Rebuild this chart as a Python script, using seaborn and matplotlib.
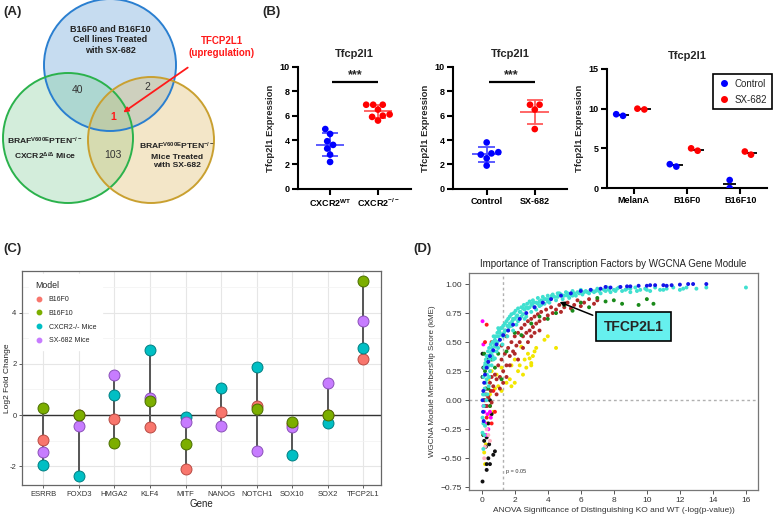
import numpy as np
import pandas as pd
import matplotlib
matplotlib.use("Agg")
import matplotlib.pyplot as plt
import seaborn as sns
from matplotlib.patches import Circle
from matplotlib.lines import Line2D

sns.set_theme(style="white")
plt.rcParams['font.family'] = ['Liberation Sans', 'DejaVu Sans']
plt.rcParams['mathtext.fontset'] = 'custom'
plt.rcParams['mathtext.rm'] = 'Liberation Sans'
plt.rcParams['mathtext.bf'] = 'Liberation Sans:bold'
plt.rcParams['mathtext.default'] = 'bf'

# ---- (A) Venn counts ----
venn_counts = ["40", "2", "1", "103"]   # B∩G, B∩Y, all three, G∩Y

# ---- (B) Tfcp2l1 expression ----
cxcr2_wt = [4.9, 4.5, 3.9, 3.6, 3.3, 2.8, 2.2]
cxcr2_ko = [6.9, 6.9, 6.9, 6.5, 6.1, 6.0, 5.9, 5.6]
ctrl_mice = [3.8, 3.0, 2.9, 2.8, 2.5, 1.9]
sx_mice = [6.9, 6.9, 6.5, 4.9]
cell_lines = ["MelanA", "B16F0", "B16F10"]
cell_ctrl = [[9.1, 9.3], [2.7, 3.0], [1.0, 0.0]]
cell_sx = [[9.9, 10.0], [4.7, 5.0], [4.2, 4.6]]

# ---- (C) log2 fold change ----
genes = ["ESRRB", "FOXD3", "HMGA2", "KLF4", "MITF", "NANOG", "NOTCH1", "SOX10", "SOX2", "TFCP2L1"]
lfc_b16f0 = [-0.99, 0.0, -0.17, -0.46, -2.1, 0.12, 0.35, -0.35, 0.0, 2.17]
lfc_b16f10 = [0.28, 0.0, -1.11, 0.55, -1.14, np.nan, 0.22, -0.28, 0.0, 5.23]
lfc_cxcr2 = [-1.96, -2.36, 0.77, 2.55, -0.06, 1.07, 1.87, -1.54, -0.32, 2.62]
lfc_sx682 = [-1.43, -0.43, 1.57, 0.68, -0.26, -0.41, -1.42, -0.48, 1.25, 3.65]
models = ["B16F0", "B16F10", "CXCR2-/- Mice", "SX-682 Mice"]

# ---- (D) WGCNA modules: (ANOVA -log p, kME) ----
turquoise_pts = [
    (0.05, -0.28), (0.05, -0.15), (0.08, 0.05), (0.1, -0.42), (0.1, 0.2), (0.12, -0.05), (0.15, 0.28),
    (0.15, -0.3), (0.18, 0.1), (0.2, -0.22), (0.22, 0.32), (0.25, 0.15), (0.28, 0.0), (0.3, 0.38),
    (0.32, 0.22), (0.35, 0.05), (0.38, 0.42), (0.4, 0.3), (0.42, 0.12), (0.45, 0.45), (0.48, 0.35),
    (0.5, 0.25), (0.55, 0.48), (0.58, 0.38), (0.6, 0.3), (0.62, 0.45), (0.65, 0.5), (0.7, 0.42),
    (0.7, 0.35), (0.72, 0.55), (0.78, 0.47), (0.8, 0.36), (0.85, 0.55), (0.9, 0.5), (0.9, 0.42),
    (0.95, 0.58), (1.0, 0.45), (1.0, 0.55), (1.05, 0.6), (1.1, 0.52), (1.15, 0.62), (1.2, 0.56),
    (1.2, 0.62), (1.25, 0.48), (1.3, 0.64), (1.35, 0.58), (1.4, 0.66), (1.45, 0.6), (1.5, 0.68),
    (1.55, 0.55), (1.6, 0.7), (1.6, 0.6), (1.65, 0.63), (1.7, 0.72), (1.75, 0.66), (1.8, 0.74),
    (1.8, 0.64), (1.85, 0.68), (1.9, 0.6), (1.95, 0.75), (2.0, 0.7), (2.05, 0.77), (2.1, 0.65),
    (2.15, 0.73), (2.2, 0.79), (2.2, 0.68), (2.3, 0.7), (2.35, 0.76), (2.4, 0.8), (2.4, 0.72),
    (2.5, 0.74), (2.55, 0.82), (2.6, 0.78), (2.6, 0.7), (2.7, 0.72), (2.75, 0.83), (2.8, 0.79),
    (2.9, 0.85), (3.0, 0.76), (3.0, 0.83), (3.05, 0.82), (3.1, 0.86), (3.2, 0.8), (3.3, 0.84),
    (3.3, 0.78), (3.4, 0.88), (3.5, 0.81), (3.5, 0.85), (3.6, 0.86), (3.7, 0.89), (3.8, 0.83),
    (3.9, 0.87), (4.0, 0.9), (4.0, 0.85), (4.1, 0.84), (4.2, 0.88), (4.3, 0.91), (4.4, 0.89),
    (4.5, 0.86), (4.6, 0.89), (4.7, 0.92), (4.8, 0.91), (4.9, 0.87), (5.0, 0.9), (5.1, 0.93),
    (5.2, 0.9), (5.3, 0.88), (5.4, 0.91), (5.5, 0.94), (5.6, 0.92), (5.7, 0.9), (5.8, 0.93),
    (6.0, 0.95), (6.1, 0.91), (6.2, 0.93), (6.3, 0.94), (6.5, 0.92), (6.6, 0.95), (6.8, 0.93),
    (6.9, 0.94), (7.0, 0.96), (7.2, 0.92), (7.4, 0.95), (7.5, 0.94), (7.6, 0.97), (7.8, 0.93),
    (8.0, 0.95), (8.2, 0.96), (8.3, 0.97), (8.5, 0.94), (8.8, 0.96), (9.0, 0.93), (9.0, 0.96),
    (9.3, 0.97), (9.6, 0.95), (9.9, 0.96), (10.2, 0.94), (10.5, 0.97), (10.8, 0.95), (11.2, 0.96),
    (11.6, 0.97), (12.0, 0.95), (12.4, 0.97), (13.0, 0.96), (13.6, 0.97), (16.0, 0.97),
    (0.25, 0.35), (0.35, 0.28), (0.45, 0.2), (0.55, 0.4), (0.65, 0.38), (0.75, 0.5), (0.85, 0.46),
    (0.95, 0.5), (1.1, 0.58), (1.3, 0.55), (1.4, 0.6), (1.55, 0.64), (1.7, 0.66), (1.9, 0.7),
    (2.1, 0.72), (2.3, 0.76), (2.5, 0.79), (2.7, 0.8), (2.9, 0.8), (3.15, 0.84), (3.4, 0.83),
    (3.6, 0.82), (3.8, 0.87), (4.05, 0.87), (4.25, 0.9), (4.6, 0.92), (4.9, 0.9), (5.2, 0.92),
    (5.5, 0.9), (5.9, 0.92), (6.4, 0.93), (6.7, 0.94), (7.1, 0.94), (7.7, 0.95), (8.1, 0.94),
    (8.7, 0.95), (9.4, 0.94), (10.0, 0.95), (11.0, 0.95), (12.2, 0.96), (1.0, 0.62), (0.8, 0.52),
    (0.6, 0.42), (0.4, 0.38), (0.2, 0.3), (0.3, 0.18), (0.15, 0.05), (0.1, -0.2),
]
blue_pts = [
    (0.05, 0.0), (0.08, -0.1), (0.1, 0.08), (0.12, -0.18), (0.15, 0.15), (0.2, 0.22), (0.3, 0.28),
    (0.4, 0.33), (0.5, 0.38), (0.7, 0.43), (0.9, 0.48), (1.1, 0.52), (1.3, 0.56), (1.6, 0.6),
    (1.9, 0.65), (2.3, 0.7), (2.7, 0.75), (3.2, 0.8), (3.7, 0.84), (4.2, 0.87), (4.8, 0.9),
    (5.4, 0.92), (6.0, 0.94), (6.6, 0.95), (7.2, 0.96), (7.5, 0.975), (7.8, 0.97), (8.4, 0.975),
    (8.8, 0.98), (9.0, 0.98), (9.5, 0.985), (10.0, 0.985), (10.2, 0.99), (10.5, 0.99), (11.0, 0.99),
    (11.2, 0.985), (11.5, 0.99), (12.0, 0.995), (12.5, 1.0), (12.8, 1.0), (13.6, 1.0),
]
brown_pts = [
    (0.2, 0.0), (0.25, 0.05), (0.3, -0.05), (0.35, 0.1), (0.4, 0.02), (0.5, 0.15), (0.55, 0.08),
    (0.6, 0.2), (0.6, -0.02), (0.7, 0.12), (0.8, 0.22), (0.9, 0.18), (0.9, 0.05), (1.0, 0.3),
    (1.1, 0.2), (1.1, 0.1), (1.2, 0.35), (1.2, 0.47), (1.3, 0.25), (1.3, 0.15), (1.4, 0.4),
    (1.5, 0.3), (1.5, 0.2), (1.5, 0.55), (1.6, 0.45), (1.7, 0.38), (1.7, 0.3), (1.8, 0.5),
    (1.9, 0.42), (2.0, 0.55), (2.0, 0.4), (2.1, 0.47), (2.2, 0.58), (2.2, 0.35), (2.3, 0.5),
    (2.4, 0.62), (2.5, 0.55), (2.5, 0.45), (2.6, 0.65), (2.7, 0.58), (2.8, 0.68), (2.8, 0.5),
    (2.9, 0.6), (3.0, 0.7), (3.0, 0.55), (3.1, 0.63), (3.2, 0.72), (3.2, 0.58), (3.3, 0.66),
    (3.4, 0.74), (3.5, 0.68), (3.5, 0.6), (3.6, 0.76), (3.8, 0.7), (3.9, 0.78), (4.0, 0.73),
    (4.2, 0.8), (4.3, 0.75), (4.5, 0.78), (4.7, 0.82), (4.8, 0.76), (5.0, 0.8), (5.2, 0.84),
    (5.4, 0.79), (5.6, 0.82), (5.8, 0.86), (6.0, 0.81), (6.2, 0.84), (6.5, 0.87), (6.8, 0.83),
    (7.0, 0.86),
]
yellow_pts = [
    (0.1, -0.3), (0.15, -0.45), (0.2, -0.55), (0.25, -0.38), (0.3, -0.2), (0.4, 0.18), (0.5, 0.05),
    (0.5, -0.12), (0.6, 0.25), (0.7, -0.1), (0.8, 0.1), (0.9, 0.22), (1.0, 0.12), (1.2, 0.08),
    (1.2, 0.28), (1.5, 0.15), (1.7, 0.18), (1.8, 0.12), (1.8, 0.3), (2.0, 0.15), (2.0, 0.35),
    (2.2, 0.25), (2.3, 0.3), (2.4, 0.46), (2.5, 0.22), (2.6, 0.35), (2.7, 0.28), (2.8, 0.4),
    (2.9, 0.36), (3.0, 0.32), (3.0, 0.3), (3.1, 0.38), (3.2, 0.42), (3.3, 0.45), (3.8, 0.52),
    (4.0, 0.55), (4.5, 0.45),
]
green_pts = [
    (0.15, 0.4), (0.2, 0.25), (0.3, 0.32), (0.4, 0.1), (0.5, -0.05), (0.6, 0.35), (0.8, 0.28),
    (1.0, 0.4), (1.2, 0.18), (1.5, 0.42), (2.0, 0.58), (2.4, 0.56), (3.0, 0.66), (3.5, 0.72),
    (4.0, 0.7), (4.5, 0.75), (5.0, 0.82), (5.5, 0.77), (6.0, 0.84), (6.5, 0.8), (7.0, 0.88),
    (7.5, 0.85), (8.0, 0.86), (8.5, 0.83), (9.5, 0.82), (10.0, 0.87), (10.4, 0.83),
]
red_pts = [
    (0.2, 0.5), (0.3, 0.65), (0.3, -0.15), (0.4, 0.03), (0.5, -0.05), (0.6, 0.5), (0.6, -0.2),
    (0.7, 0.08), (0.8, -0.1),
]
black_pts = [
    (0.05, 0.4), (0.05, 0.2), (0.05, -0.7), (0.1, 0.28), (0.1, -0.3), (0.15, 0.0), (0.15, -0.35),
    (0.2, -0.05), (0.25, 0.1), (0.25, -0.4), (0.3, -0.32), (0.3, -0.55), (0.3, -0.6), (0.35, 0.35),
    (0.4, -0.5), (0.4, -0.2), (0.45, -0.38), (0.5, 0.0), (0.5, -0.55), (0.6, -0.12), (0.7, -0.47),
    (0.8, -0.44),
]
pink_pts = [(0.15, -0.5), (0.2, -0.4), (0.3, -0.25), (0.4, -0.3), (0.5, -0.35)]
magenta_pts = [
    (0.05, 0.68), (0.1, 0.48), (0.1, -0.05), (0.15, -0.1), (0.2, -0.2), (0.25, -0.3), (0.3, -0.05),
    (0.35, -0.12), (0.4, -0.25), (0.5, -0.1), (0.55, -0.15),
]

W, H = 777, 517
fig = plt.figure(figsize=(W / 100, H / 100), dpi=100)


def px_axes(l, t, r, b):
    return fig.add_axes([l / W, 1 - b / H, (r - l) / W, (b - t) / H])


def px_text(x, y, s, **kw):
    fig.text(x / W, 1 - y / H, s, **kw)


for lab, x, y in [("(A)", 3, 12), ("(B)", 262, 12), ("(C)", 3, 249), ("(D)", 413, 249)]:
    px_text(x, y, lab, fontsize=9.5, fontweight='bold', va='center', ha='left')

# ================= (A) =================
ax = px_axes(0, 0, 245, 245)
ax.set_xlim(0, 245)
ax.set_ylim(245, 0)
ax.axis('off')
circles = [((110, 65), 66, '#5c9bd4', '#2a7fd0'),
           ((68, 138), 65, '#81ce99', '#2bb24c'),
           ((151, 140), 63, '#ddba62', '#c9a030')]
for c, r, fc, ec in circles:
    ax.add_patch(Circle(c, r, facecolor=fc, edgecolor='none', alpha=0.35))
for c, r, fc, ec in circles:
    ax.add_patch(Circle(c, r, fill=False, edgecolor=ec, lw=1.4))

ax.text(110, 40, "B16F0 and B16F10\nCell lines Treated\nwith SX-682", ha='center', va='center',
        fontsize=6.5, fontweight='bold', color='#222', linespacing=1.25)
ax.text(45, 149, "BRAF$^{V600E}$PTEN$^{-/-}$\nCXCR2$^{Δ/Δ}$ Mice", ha='center', va='center',
        fontsize=6.1, fontweight='bold', color='#222', linespacing=1.4)
ax.text(177, 155, "BRAF$^{V600E}$PTEN$^{-/-}$\nMice Treated\nwith SX-682", ha='center', va='center',
        fontsize=6.1, fontweight='bold', color='#222', linespacing=1.3)
for s, (x, y) in zip(venn_counts, [(78, 90), (147, 87), (113, 117), (113, 155)]):
    red = s == "1"
    ax.text(x, y, s, ha='center', va='center', fontsize=7.5,
            color='#ff1a1a' if red else '#333', fontweight='bold' if red else 'normal')
ax.text(222, 47, "TFCP2L1\n(upregulation)", ha='center', va='center', fontsize=7,
        fontweight='bold', color='#ff1a1a', linespacing=1.2)
ax.annotate("", xy=(121, 114), xytext=(190, 66),
            arrowprops=dict(arrowstyle='-|>', color='#ff1a1a', lw=1.3, mutation_scale=7))


# ================= (B) =================
def style_prism(ax, ymax, step):
    sns.despine(ax=ax)
    for sp in ['left', 'bottom']:
        ax.spines[sp].set_linewidth(1.5)
        ax.spines[sp].set_color('black')
    ax.set_ylim(0, ymax)
    ax.set_yticks(np.arange(0, ymax + 0.1, step))
    ax.tick_params(axis='both', direction='out', length=4, width=1.5, labelsize=6.5, pad=2,
                   colors='black', left=True, bottom=True)
    for t in ax.get_xticklabels() + ax.get_yticklabels():
        t.set_fontweight('bold')
    ax.set_xlabel("")
    ax.set_ylabel("Tfcp2l1 Expression", fontsize=6.8, fontweight='bold', labelpad=3)
    ax.set_title("Tfcp2l1", fontsize=8, fontweight='bold', pad=7)


def dot_panel(ax, groups, labels, xlim):
    df = pd.DataFrame({'group': sum([[l] * len(g) for l, g in zip(labels, groups)], []),
                       'val': sum(groups, [])})
    sns.swarmplot(data=df, x='group', y='val', hue='group', palette=['#0000ff', '#ff0000'],
                  size=4.8, ax=ax, legend=False, zorder=3)
    for i, (vals, c) in enumerate(zip(groups, ['#4f4fff', '#ff5a5a'])):
        m, s = np.mean(vals), np.std(vals, ddof=1)
        ax.hlines(m, i - 0.3, i + 0.3, color=c, lw=1.3, zorder=2)
        ax.hlines([m - s, m + s], i - 0.17, i + 0.17, color=c, lw=1.3, zorder=2)
        ax.vlines(i, m - s, m + s, color=c, lw=1.3, zorder=2)
    ax.hlines(8.8, 0.05, 1.0, color='black', lw=1.6)
    ax.text(0.52, 8.85, "***", ha='center', va='bottom', fontsize=9, fontweight='bold')
    ax.set_xlim(*xlim)
    style_prism(ax, 10, 2)


ax = px_axes(298, 67, 411, 188.7)
dot_panel(ax, [cxcr2_wt, cxcr2_ko], ["CXCR2$^{WT}$", "CXCR2$^{-/-}$"], (-0.67, 1.69))
ax = px_axes(453, 67, 567, 188.7)
dot_panel(ax, [ctrl_mice, sx_mice], ["Control", "SX-682"], (-0.7, 1.67))

ax = px_axes(607, 69, 767, 188)
rows = []
for cell, cv, sv in zip(cell_lines, cell_ctrl, cell_sx):
    rows += [(cell, "Control", v) for v in cv] + [(cell, "SX-682", v) for v in sv]
df3 = pd.DataFrame(rows, columns=['cell', 'treat', 'val'])
sns.swarmplot(data=df3, x='cell', y='val', hue='treat', dodge=True, size=4.8,
              palette={'Control': '#0000ff', 'SX-682': '#ff0000'}, ax=ax, zorder=3)
for i, (cv, sv) in enumerate(zip(cell_ctrl, cell_sx)):
    for off, vals in [(-0.2, cv), (0.2, sv)]:
        ax.hlines(np.mean(vals), i + off - 0.12, i + off + 0.12, color='black', lw=1.3, zorder=2)
ax.set_xlim(-0.5, 2.5)
style_prism(ax, 15, 5)
ax.get_legend().remove()
handles = [Line2D([], [], marker='o', ls='', color=c, markersize=4) for c in ['#0000ff', '#ff0000']]
leg = ax.legend(handles, ["Control", "SX-682"], loc='upper right', bbox_to_anchor=(1.06, 1.0),
                fontsize=7, frameon=True, fancybox=False, edgecolor='black', framealpha=1,
                handletextpad=0.5, borderpad=0.5, labelspacing=0.6, handlelength=1.2)
leg.get_frame().set_linewidth(1.2)

# ================= (C) =================
ax = px_axes(22, 271, 381, 485)
model_vals = [lfc_b16f0, lfc_b16f10, lfc_cxcr2, lfc_sx682]
dfc = pd.DataFrame({'gene': genes * 4,
                    'model': sum([[m] * len(genes) for m in models], []),
                    'lfc': sum(model_vals, [])}).dropna()
rng = dfc.groupby('gene', sort=False)['lfc'].agg(['min', 'max'])
ax.vlines(rng.index, rng['min'], rng['max'], color='#555', lw=1.4, zorder=2)
ax.axhline(0, color='#333', lw=1.0, zorder=1)
fills = {'B16F0': '#F8766D', 'B16F10': '#7CAE00', 'CXCR2-/- Mice': '#00BFC4', 'SX-682 Mice': '#C77CFF'}
edges = {'B16F0': '#b84a42', 'B16F10': '#4a6e00', 'CXCR2-/- Mice': '#007f82', 'SX-682 Mice': '#8a50b8'}
for m in ['B16F0', 'CXCR2-/- Mice', 'SX-682 Mice', 'B16F10']:
    sub = dfc[dfc['model'] == m]
    sns.scatterplot(data=sub, x='gene', y='lfc', color=fills[m], edgecolor=edges[m], linewidth=0.7,
                    s=62, ax=ax, zorder=3)
ax.set_xlim(-0.6, 9.5)
ax.set_ylim(-2.73, 5.62)
ax.set_yticks([-2, 0, 2, 4], labels=['-2', '0', '2', '4'])
ax.set_yticks([-1, 1, 3, 5], minor=True)
ax.grid(which='major', color='#e6e6e6', lw=0.8, zorder=0)
ax.grid(which='minor', axis='y', color='#f2f2f2', lw=0.5, zorder=0)
ax.set_axisbelow(True)
for sp in ax.spines.values():
    sp.set_color('#666')
    sp.set_linewidth(0.9)
ax.tick_params(axis='both', which='major', length=2.5, width=0.6, color='#444', labelsize=5.5,
               labelcolor='#333', pad=1.5, left=True, bottom=True)
ax.tick_params(which='minor', length=0)
ax.set_xlabel("Gene", fontsize=7, color='#222', labelpad=1)
ax.set_ylabel("Log2 Fold Change", fontsize=6, color='#222')
ax.yaxis.set_label_coords(-0.03, 0.5)
handles = [Line2D([], [], marker='o', ls='', color=fills[m], markersize=3.2) for m in models]
leg = ax.legend(handles, models, title="Model", loc='upper left', bbox_to_anchor=(0.01, 1.0),
                fontsize=5, title_fontsize=6.3, frameon=True, facecolor='white', edgecolor='white',
                framealpha=1, borderpad=0.9, labelspacing=0.95, handletextpad=0.9, handlelength=1.0,
                alignment='left')

# ================= (D) =================
ax = px_axes(469, 273, 758, 490)
module_pts = [('yellow', yellow_pts), ('black', black_pts), ('magenta', magenta_pts), ('pink', pink_pts),
              ('red', red_pts), ('brown', brown_pts), ('green', green_pts), ('turquoise', turquoise_pts),
              ('blue', blue_pts)]
dfd = pd.concat([pd.DataFrame(pts, columns=['anova', 'kme']).assign(module=name)
                 for name, pts in module_pts], ignore_index=True)
pal = {'yellow': '#f2e600', 'black': '#111111', 'magenta': '#ff00ff', 'pink': '#ffb0c0',
       'red': '#ff1a1a', 'brown': '#b02a2a', 'green': '#1a8a1a', 'turquoise': '#40e0d0', 'blue': '#1515e8'}
sns.scatterplot(data=dfd, x='anova', y='kme', hue='module', palette=pal, s=8, linewidth=0,
                legend=False, ax=ax, zorder=3)
ax.axvline(1.3, color='#b0b0b0', ls=(0, (2, 2)), lw=1, zorder=1)
ax.axhline(0, color='#b0b0b0', ls=(0, (2, 2)), lw=1, zorder=1)
ax.text(1.45, -0.63, "p = 0.05", fontsize=4, color='#333')
ax.set_xlim(-0.77, 16.73)
ax.set_ylim(-0.773, 1.095)
ax.set_xticks(range(0, 17, 2))
ax.set_yticks(np.arange(-0.75, 1.01, 0.25))
for sp in ax.spines.values():
    sp.set_color('#777')
    sp.set_linewidth(0.9)
ax.tick_params(axis='both', length=3, width=0.7, color='#555', labelsize=6, labelcolor='#333', pad=2,
               left=True, bottom=True)
ax.set_xlabel("ANOVA Significance of Distinguishing KO and WT (-log(p-value))", fontsize=6, color='#333',
              labelpad=2)
ax.set_ylabel("WGCNA Module Membership Score (kME)", fontsize=5.8, color='#333', labelpad=3)
ax.set_title("Importance of Transcription Factors by WGCNA Gene Module", fontsize=7, color='#222', pad=4)
ax.annotate("TFCP2L1", xy=(4.56, 0.854), xytext=(9.19, 0.634), ha='center', va='center',
            fontsize=10, fontweight='bold',
            bbox=dict(boxstyle='square,pad=0.55', fc='#66f0ee', ec='black', lw=1.2),
            arrowprops=dict(arrowstyle='-|>', color='black', lw=1.1, mutation_scale=7, relpos=(0.0, 1.0)))

fig.savefig("out.png", dpi=100)
